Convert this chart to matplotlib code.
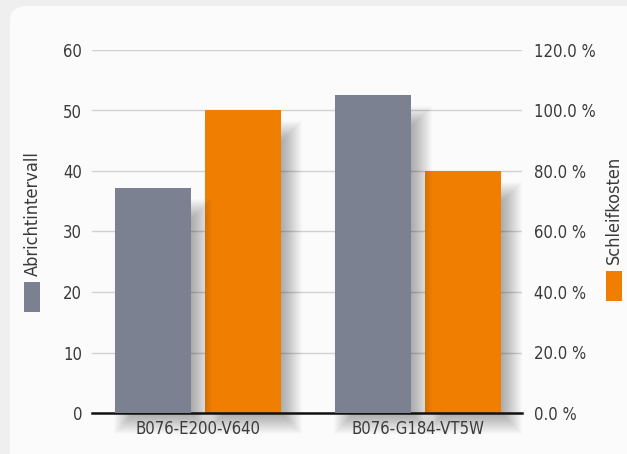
import matplotlib.pyplot as plt
from matplotlib.patches import FancyBboxPatch, Rectangle
from matplotlib.ticker import FuncFormatter
import numpy as np

plt.rcParams['font.family'] = ['DejaVu Sans']
plt.rcParams['font.stretch'] = 'condensed'

# data
categories = ['B076-E200-V640', 'B076-G184-VT5W']
abrichtintervall = [37.2, 52.6]
schleifkosten = [100.0, 80.0]   # percent

gray = '#7b8190'
orange = '#f07e00'
txt = '#3a3a3a'

fig = plt.figure(figsize=(6.27, 4.54), dpi=100)
fig.patch.set_facecolor('#efefef')
panel = FancyBboxPatch((10 / 627, -0.1), 1.2, 1.0 - 6 / 454 + 0.1,
                       boxstyle='round,pad=0,rounding_size=0.03',
                       transform=fig.transFigure, facecolor='#fbfbfb',
                       edgecolor='none', zorder=-5)
fig.patches.append(panel)

ax = fig.add_axes([92 / 627, 1 - 413 / 454, 430 / 627, 363 / 454])
ax2 = ax.twinx()
# left axis (gray bars) on top of right axis (orange bars + shadows)
ax.set_zorder(ax2.get_zorder() + 1)
ax.patch.set_visible(False)
ax2.patch.set_visible(False)

x = np.arange(len(categories))
w = 0.345
off = 0.2045
ratio = 120 / 60.0

# px -> data conversions (right axis)
px_x = 1 / 220.0
px_y = 120 / 363.0

def shadow(a, xc, top, z):
    # soft blurred shadow, stacked translucent rectangles
    dx, drop, below, B = 10, 22, 10, 11
    for s in range(-B, B + 1):
        l = xc - w / 2 + (dx - s) * px_x
        r = xc + w / 2 + (dx + s) * px_x
        t = top - (drop - s) * px_y
        b = -(below + s) * px_y
        a.add_patch(Rectangle((l, b), r - l, t - b, facecolor='#000000',
                              alpha=0.016, edgecolor='none', clip_on=False,
                              zorder=z))

for i in range(len(categories)):
    shadow(ax2, x[i] + off, schleifkosten[i], 1)
    shadow(ax2, x[i] - off, abrichtintervall[i] * ratio, 2)

ax.bar(x - off, abrichtintervall, w, color=gray, zorder=3)
ax2.bar(x + off, schleifkosten, w, color=orange, zorder=1.5)

ax.set_xlim(-106 / 220, 324 / 220)
ax.set_ylim(0, 60)
ax2.set_ylim(0, 120)
ax.set_yticks(range(0, 61, 10))
ax2.set_yticks(range(0, 121, 20))
ax2.yaxis.set_major_formatter(FuncFormatter(lambda v, p: '%.1f %%' % v))
ax.set_xticks(x)
ax.set_xticklabels(categories, fontsize=12.5)

ax2.grid(axis='y', color='#d2d2d2', linewidth=1, zorder=0)
ax2.set_axisbelow(True)
for a in (ax, ax2):
    for sp in a.spines.values():
        sp.set_visible(False)
    a.tick_params(length=0, labelsize=12, colors=txt)
ax2.spines['bottom'].set_visible(True)
ax2.spines['bottom'].set_color('#111111')
ax2.spines['bottom'].set_linewidth(1.8)
ax2.spines['bottom'].set_zorder(5)
ax.tick_params(axis='y', pad=7)
ax2.tick_params(axis='y', pad=9)
ax.tick_params(axis='x', pad=5)

# axis "legends"
fig.text(33 / 627, 1 - 214 / 454, 'Abrichtintervall', rotation=90, ha='center',
         va='center', fontsize=13, color=txt)
fig.patches.append(Rectangle((24 / 627, 1 - 312 / 454), 16 / 627, 30 / 454,
                             transform=fig.transFigure, facecolor=gray, edgecolor='none'))
fig.text(614 / 627, 1 - 210 / 454, 'Schleifkosten', rotation=90, ha='center',
         va='center', fontsize=13, color=txt)
fig.patches.append(Rectangle((606 / 627, 1 - 301 / 454), 16 / 627, 30 / 454,
                             transform=fig.transFigure, facecolor=orange, edgecolor='none'))

fig.savefig('out.png', dpi=100, facecolor=fig.get_facecolor())
